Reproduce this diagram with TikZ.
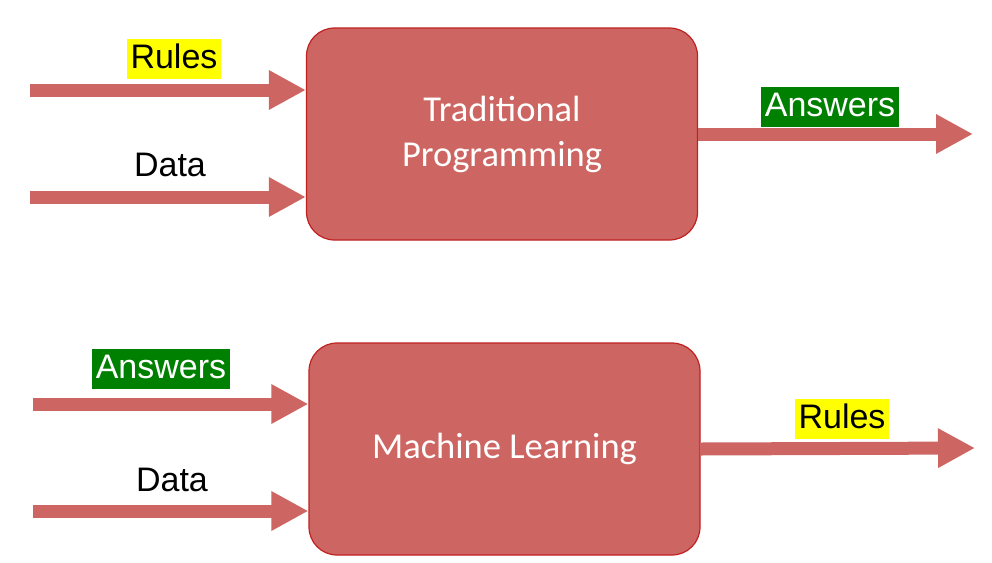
\documentclass[tikz,border=0pt]{standalone}
\usepackage{fontspec}
\setmainfont{Liberation Sans}
\newfontfamily\boxfont{Carlito}
\usetikzlibrary{arrows.meta,positioning}
\definecolor{boxred}{RGB}{205,102,98}
\definecolor{edgered}{RGB}{192,32,32}
\definecolor{hlgreen}{RGB}{0,128,0}
\definecolor{hlyellow}{RGB}{255,255,0}
\tikzset{
  flow/.style={line width=13pt, draw=boxred, -{Triangle[length=37pt,width=37pt]}},
  stage/.style={draw=edgered, fill=boxred, line width=1.2pt, rounded corners=28pt,
    minimum width=391pt, minimum height=212pt, text=white, align=center,
    font=\boxfont\fontsize{36.5}{45}\selectfont},
  lbl/.style={font=\fontsize{34}{38}\selectfont, inner xsep=4pt, inner ysep=5pt,
    text height=24pt, text depth=6pt},
  yellowlbl/.style={lbl, fill=hlyellow},
  greenlbl/.style={lbl, fill=hlgreen, text=white},
}
\begin{document}
\begin{tikzpicture}[x=1pt,y=-1pt]
  \useasboundingbox (0,0) rectangle (992,562);
  % traditional programming
  \node[stage] (trad) at (502,134) {Traditional\\Programming};
  \coordinate (rulesIn) at (30,90);
  \coordinate (dataIn) at (30,197);
  \coordinate (answersOut) at (973,134);
  \draw[flow] (rulesIn) -- (rulesIn -| trad.west);
  \draw[flow] (dataIn) -- (dataIn -| trad.west);
  \draw[flow] (trad.east) -- (answersOut);
  \node[yellowlbl] (rulesLbl) at (174,59) {Rules};
  \node[lbl] (dataLbl) at (170,167) {Data};
  \node[greenlbl] (answersLbl) at (830,107) {Answers};
  % machine learning
  \node[stage] (ml) at (504.5,449) {Machine Learning};
  \coordinate (answersIn) at (33,404);
  \coordinate (dataInB) at (33,511);
  \coordinate (rulesOut) at (975,448);
  \draw[flow] (answersIn) -- (answersIn -| ml.west);
  \draw[flow] (dataInB) -- (dataInB -| ml.west);
  \draw[flow] (ml.east) -- (rulesOut);
  \node[greenlbl] (answersLblB) at (161,369) {Answers};
  \node[lbl] (dataLblB) at (172,482) {Data};
  \node[yellowlbl] (rulesLblB) at (842,419) {Rules};
\end{tikzpicture}
\end{document}
